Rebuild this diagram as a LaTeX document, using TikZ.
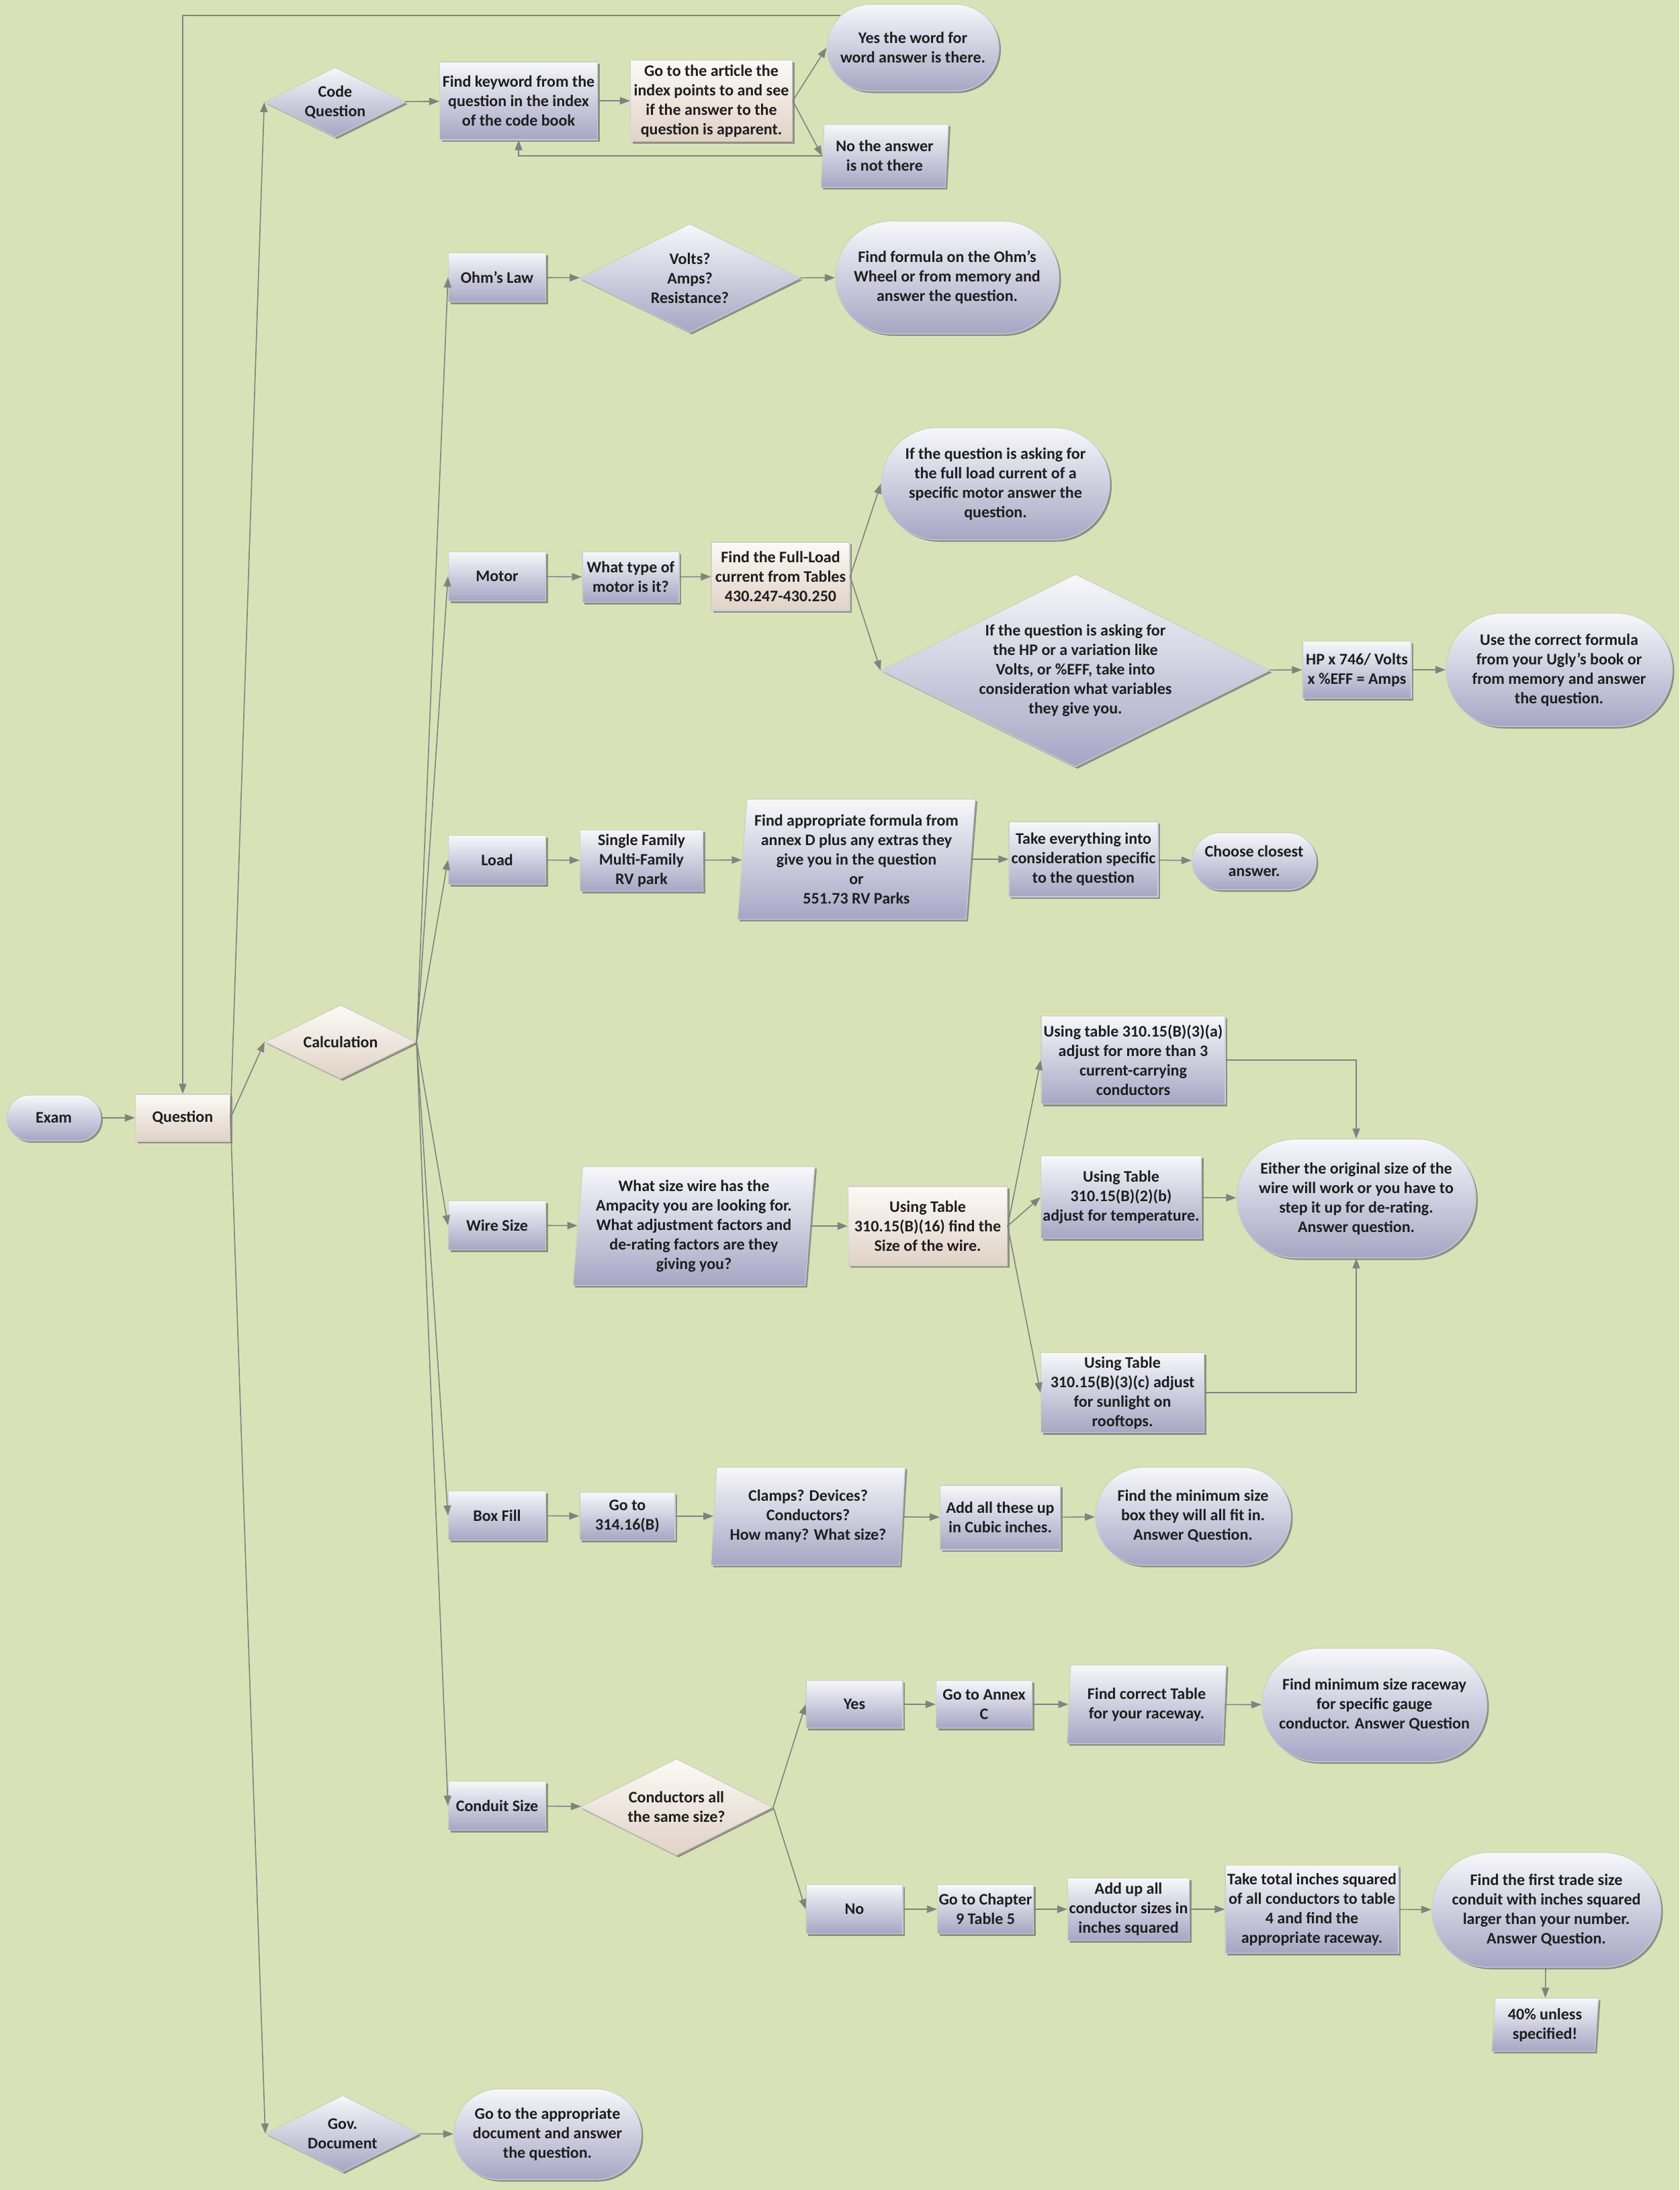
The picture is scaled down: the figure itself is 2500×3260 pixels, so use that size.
\documentclass[tikz,border=0pt]{standalone}
\usepackage{fontspec}
\setmainfont{Carlito}
\usepackage{tikz}
\usetikzlibrary{shapes,shapes.geometric,shapes.misc,arrows.meta,shadows,positioning,calc}

\definecolor{bg}{RGB}{217,226,183}
\definecolor{bluetop}{RGB}{247,247,251}
\definecolor{bluebot}{RGB}{166,166,196}
\definecolor{peachtop}{RGB}{252,250,246}
\definecolor{peachbot}{RGB}{224,210,198}
\definecolor{edge}{RGB}{205,205,210}
\definecolor{arrowgray}{RGB}{128,130,128}
\definecolor{txt}{RGB}{30,30,30}

\begin{document}
\begin{tikzpicture}[x=1pt, y=-1pt,
    box/.style={font=\bfseries\fontsize{24}{29}\selectfont, text=txt, align=center,
      draw=edge, line width=1.2pt, inner sep=0pt,
      drop shadow={shadow xshift=3pt, shadow yshift=-3pt, opacity=0.35, fill=black}},
    bluefill/.style={top color=bluetop, bottom color=bluebot},
    peachfill/.style={top color=peachtop, bottom color=peachbot},
    proc/.style={box, bluefill, rectangle},
    procp/.style={box, peachfill, rectangle},
    dec/.style={box, bluefill, diamond, aspect=2},
    decp/.style={box, peachfill, diamond, aspect=2},
    term/.style={box, bluefill, rounded rectangle},
    io/.style={box, bluefill, trapezium, trapezium left angle=84, trapezium right angle=96, trapezium stretches body},
    arr/.style={draw=arrowgray, line width=1.6pt, -{Triangle[length=15pt,width=11pt]}}]
    \useasboundingbox (0,0) rectangle (2500,3260);
    \fill[bg] (0,0) rectangle (2500,3260);

    % start
    \node (exam) [term, minimum width=140pt, minimum height=68pt] at (80,1664) {Exam};
    \node (question) [procp, minimum width=141pt, minimum height=70pt] at (272,1664) {Question};
    \node (codeq) [dec, minimum width=210pt, minimum height=104pt] at (499,152) {Code\\Question};
    \node (calc) [decp, minimum width=225pt, minimum height=110pt] at (507,1551) {Calculation};
    \node (govdoc) [dec, minimum width=229pt, minimum height=114pt] at (510,3176) {Gov.\\Document};
    \node (godoc) [term, minimum width=279pt, minimum height=135pt] at (815,3177) {Go to the appropriate\\document and answer\\the question.};

    % code question
    \node (findkey) [proc, minimum width=235pt, minimum height=116pt] at (772,150) {Find keyword from the\\question in the index\\of the code book};
    \node (article) [procp, minimum width=241pt, minimum height=121pt] at (1059,150) {Go to the article the\\index points to and see\\if the answer to the\\question is apparent.};
    \node (found) [term, minimum width=256pt, minimum height=129pt] at (1359,71) {Yes the word for\\word answer is there.};
    \node (notfound) [io, minimum width=190pt, minimum height=94pt] at (1317,232) {No the answer\\is not there};

    % ohm's law
    \node (ohm) [proc, minimum width=145pt, minimum height=73pt] at (740,413) {Ohm's Law};
    \node (vars) [dec, minimum width=329pt, minimum height=162pt] at (1027,414) {Volts?\\Amps?\\Resistance?};
    \node (wheel) [term, minimum width=333pt, minimum height=168pt] at (1410,413) {Find formula on the Ohm's\\Wheel or from memory and\\answer the question.};

    % motor
    \node (motor) [proc, minimum width=145pt, minimum height=73pt] at (740,858) {Motor};
    \node (mtype) [proc, minimum width=144pt, minimum height=75pt] at (939,859) {What type of\\motor is it?};
    \node (fla) [procp, minimum width=206pt, minimum height=102pt] at (1162,858) {Find the Full-Load\\current from Tables\\430.247-430.250};
    \node (fullload) [term, minimum width=340pt, minimum height=167pt] at (1482,720) {If the question is asking for\\the full load current of a\\specific motor answer the\\question.};
    \node (hpdec) [dec, minimum width=579pt, minimum height=287pt] at (1601,998) {If the question is asking for\\the HP or a variation like\\Volts, or \%EFF, take into\\consideration what variables\\they give you.};
    \node (hpform) [proc, minimum width=162pt, minimum height=85pt] at (2020,997) {HP x 746/ Volts\\x \%EFF = Amps};
    \node (ugly) [term, minimum width=337pt, minimum height=169pt] at (2321,997) {Use the correct formula\\from your Ugly's book or\\from memory and answer\\the question.};

    % load
    \node (load) [proc, minimum width=145pt, minimum height=73pt] at (740,1280) {Load};
    \node (family) [proc, minimum width=183pt, minimum height=91pt] at (955,1281) {Single Family\\Multi-Family\\RV park};
    \node (annexd) [io, minimum width=354pt, minimum height=179pt] at (1275,1279) {Find appropriate formula from\\annex D plus any extras they\\give you in the question\\or\\551.73 RV Parks};
    \node (consider) [proc, minimum width=222pt, minimum height=112pt] at (1613,1279) {Take everything into\\consideration specific\\to the question};
    \node (closest) [term, minimum width=185pt, minimum height=85pt] at (1867,1282) {Choose closest\\answer.};

    % wire size
    \node (wire) [proc, minimum width=145pt, minimum height=73pt] at (740,1824) {Wire Size};
    \node (ampacity) [io, minimum width=360pt, minimum height=177pt] at (1033,1825) {What size wire has the\\Ampacity you are looking for.\\What adjustment factors and\\de-rating factors are they\\giving you?};
    \node (tblsix) [procp, minimum width=237pt, minimum height=118pt] at (1381,1825) {Using Table\\310.15(B)(16) find the\\Size of the wire.};
    \node (tbla) [proc, minimum width=274pt, minimum height=131pt] at (1687,1578) {Using table 310.15(B)(3)(a)\\adjust for more than 3\\current-carrying\\conductors};
    \node (tblb) [proc, minimum width=239pt, minimum height=123pt] at (1669,1782) {Using Table\\310.15(B)(2)(b)\\adjust for temperature.};
    \node (tblc) [proc, minimum width=243pt, minimum height=119pt] at (1671,2073) {Using Table\\310.15(B)(3)(c) adjust\\for sunlight on\\rooftops.};
    \node (either) [term, minimum width=356pt, minimum height=177pt] at (2019,1784) {Either the original size of the\\wire will work or you have to\\step it up for de-rating.\\Answer question.};

    % box fill
    \node (boxfill) [proc, minimum width=145pt, minimum height=73pt] at (740,2256) {Box Fill};
    \node (gotobox) [proc, minimum width=142pt, minimum height=71pt] at (934,2257) {Go to\\314.16(B)};
    \node (clamps) [io, minimum width=289pt, minimum height=146pt] at (1203,2257) {Clamps? Devices?\\Conductors?\\How many? What size?};
    \node (cubic) [proc, minimum width=179pt, minimum height=96pt] at (1489,2259) {Add all these up\\in Cubic inches.};
    \node (minbox) [term, minimum width=291pt, minimum height=146pt] at (1776,2257) {Find the minimum size\\box they will all fit in.\\Answer Question.};

    % conduit size
    \node (conduit) [proc, minimum width=145pt, minimum height=73pt] at (740,2688) {Conduit Size};
    \node (samesize) [decp, minimum width=287pt, minimum height=144pt] at (1007,2690) {Conductors all\\the same size?};
    \node (yesb) [proc, minimum width=144pt, minimum height=71pt] at (1272,2537) {Yes};
    \node (annexc) [proc, minimum width=143pt, minimum height=71pt] at (1465,2537) {Go to Annex\\C};
    \node (raceway) [io, minimum width=237pt, minimum height=117pt] at (1707,2537) {Find correct Table\\for your raceway.};
    \node (minrace) [term, minimum width=335pt, minimum height=169pt] at (2046,2538) {Find minimum size raceway\\for specific gauge\\conductor. Answer Question};
    \node (nob) [proc, minimum width=144pt, minimum height=73pt] at (1272,2842) {No};
    \node (chapter) [proc, minimum width=143pt, minimum height=73pt] at (1467,2842) {Go to Chapter\\9 Table 5};
    \node (addup) [proc, minimum width=181pt, minimum height=93pt] at (1680,2842) {Add up all\\conductor sizes in\\inches squared};
    \node (table4) [proc, minimum width=258pt, minimum height=131pt] at (1953,2842) {Take total inches squared\\of all conductors to table\\4 and find the\\appropriate raceway.};
    \node (tradesize) [term, minimum width=341pt, minimum height=171pt] at (2302,2843) {Find the first trade size\\conduit with inches squared\\larger than your number.\\Answer Question.};
    \node (forty) [io, minimum width=159pt, minimum height=79pt] at (2300,3014) {40\% unless\\specified!};

    % connectors
    \draw[arr] (exam) -- (question);
    \draw[arr] (question.east) -- (codeq.west);
    \draw[arr] (question.east) -- (calc.west);
    \draw[arr] (question.east) -- (govdoc.west);
    \draw[arr] (govdoc) -- (godoc);
    \draw[arr] (codeq) -- (findkey);
    \draw[arr] (findkey) -- (article);
    \draw[arr] (article.east) -- (found.west);
    \draw[arr] (article.east) -- (notfound.west);
    \draw[arr] (notfound.west) -| (findkey.south);
    \draw[arr] (found.156) -| (question.north);
    \draw[arr] (calc.east) -- (ohm.west);
    \draw[arr] (calc.east) -- (motor.west);
    \draw[arr] (calc.east) -- (load.west);
    \draw[arr] (calc.east) -- (wire.west);
    \draw[arr] (calc.east) -- (boxfill.west);
    \draw[arr] (calc.east) -- (conduit.west);
    \draw[arr] (ohm) -- (vars);
    \draw[arr] (vars) -- (wheel);
    \draw[arr] (motor) -- (mtype);
    \draw[arr] (mtype) -- (fla);
    \draw[arr] (fla.east) -- (fullload.west);
    \draw[arr] (fla.east) -- (hpdec.west);
    \draw[arr] (hpdec) -- (hpform);
    \draw[arr] (hpform) -- (ugly);
    \draw[arr] (load) -- (family);
    \draw[arr] (family) -- (annexd);
    \draw[arr] (annexd) -- (consider);
    \draw[arr] (consider) -- (closest);
    \draw[arr] (wire) -- (ampacity);
    \draw[arr] (ampacity) -- (tblsix);
    \draw[arr] (tblsix.east) -- (tbla.west);
    \draw[arr] (tblsix.east) -- (tblb.west);
    \draw[arr] (tblsix.east) -- (tblc.west);
    \draw[arr] (tbla.east) -| (either.north);
    \draw[arr] (tblb) -- (either);
    \draw[arr] (tblc.east) -| (either.south);
    \draw[arr] (boxfill) -- (gotobox);
    \draw[arr] (gotobox) -- (clamps);
    \draw[arr] (clamps) -- (cubic);
    \draw[arr] (cubic) -- (minbox);
    \draw[arr] (conduit) -- (samesize);
    \draw[arr] (samesize.east) -- (yesb.west);
    \draw[arr] (samesize.east) -- (nob.west);
    \draw[arr] (yesb) -- (annexc);
    \draw[arr] (annexc) -- (raceway);
    \draw[arr] (raceway) -- (minrace);
    \draw[arr] (nob) -- (chapter);
    \draw[arr] (chapter) -- (addup);
    \draw[arr] (addup) -- (table4);
    \draw[arr] (table4) -- (tradesize);
    \draw[arr] (tradesize) -- (forty);
\end{tikzpicture}
\end{document}
